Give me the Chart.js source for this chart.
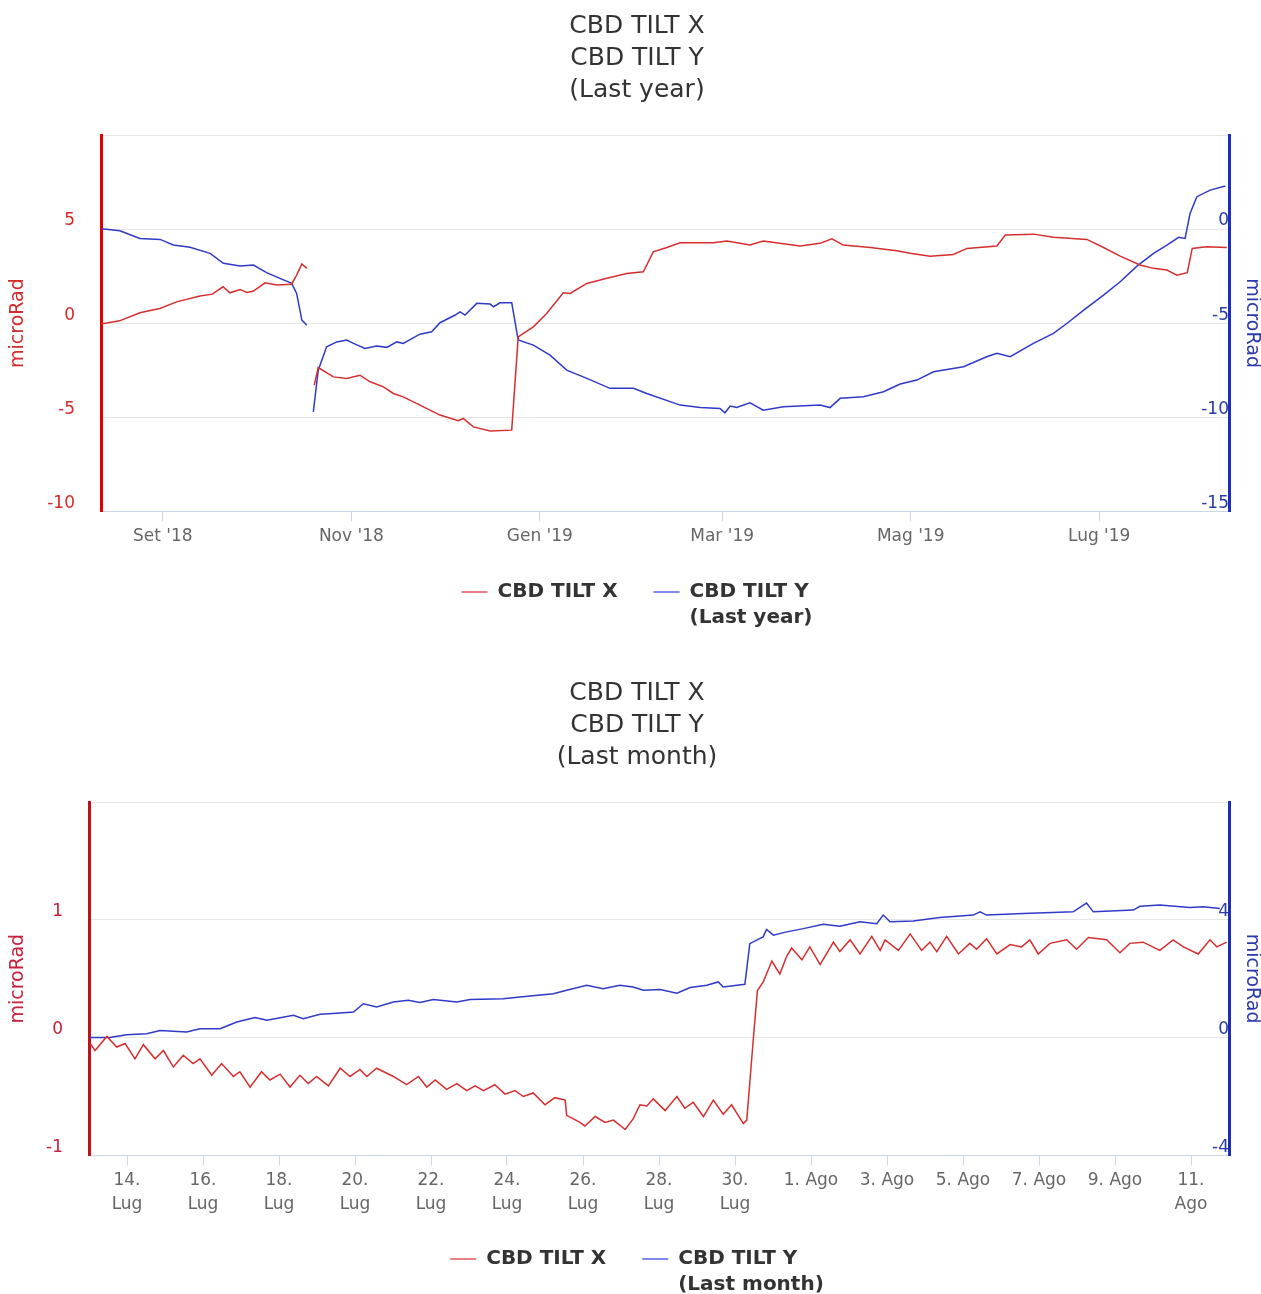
<!DOCTYPE html>
<html>
<head>
<meta charset="utf-8">
<script src="https://cdn.jsdelivr.net/npm/chart.js"></script>
<style>
html,body{margin:0;padding:0;background:#fff;overflow:hidden;}
canvas{display:block;}
</style>
</head>
<body>
<canvas id="c1" width="1274" height="667"></canvas>
<canvas id="c2" width="1274" height="667"></canvas>
<script>
// ---------- Chart 1: last year (x = days since 12 Aug 2018) ----------
const yearTitle = ['CBD TILT X', 'CBD TILT Y', '(Last year)'];
const yearTickDays = [20, 81, 142, 201, 262, 323];
const yearTickLabels = ["Set '18", "Nov '18", "Gen '19", "Mar '19", "Mag '19", "Lug '19"];
const yearLegend = [['CBD TILT X'], ['CBD TILT Y', '(Last year)']];

const yearTiltXDays = [0, 6, 12.6, 19, 24.5, 32, 36, 39.5, 41.7, 45, 47.2, 49.2, 53.1, 56.9, 61.7, 63.3, 65, 66.6,
  67.8,
  69, 70.3, 75.2, 79.5, 83.8, 87.1, 91.4, 94.6, 97.8, 103.2, 109.7, 115.6, 117.2, 120.5, 125.9, 132.9,
  135, 139.9, 144.2, 149.6, 151.8, 157.2, 163.7, 170.1, 175.5, 178.7, 183.1, 187.4, 198.2, 202.5, 210,
  214.3, 226.2, 232.7, 236.5, 240.2, 248.9, 257.5, 261.8, 268.3, 275.8, 280.2, 289.9, 292.6, 301.7,
  308.2, 319, 324.4, 329.8, 336.2, 340.6, 344.9, 348.1, 351.5, 353.1, 357.8, 364.3];
const yearTiltXVals = [-0.05, 0.12, 0.55, 0.78, 1.13, 1.44, 1.54, 1.93, 1.61, 1.79, 1.63, 1.69, 2.14, 2.02, 2.07, 2.55, 3.14, 2.91,
  null,
  -3.30, -2.36, -2.86, -2.94, -2.77, -3.12, -3.39, -3.74, -3.92, -4.36, -4.89, -5.19, -5.07, -5.52, -5.73, -5.69,
  -0.73, -0.20, 0.51, 1.61, 1.58, 2.11, 2.38, 2.64, 2.73, 3.79, 4.02, 4.27, 4.27, 4.36, 4.15,
  4.36, 4.10, 4.24, 4.48, 4.15, 4.02, 3.85, 3.71, 3.56, 3.65, 3.97, 4.10, 4.68, 4.73,
  4.56, 4.45, 4.02, 3.56, 3.09, 2.91, 2.82, 2.55, 2.68, 3.97, 4.06, 4.02];

const yearTiltYDays = [0.2, 6.1, 12.6, 19.1, 23.4, 28.8, 35.3, 39.6, 45, 49.3, 53.6, 57.9, 61.7, 63.3, 65, 66.6,
  67.6,
  68.7, 70.3, 73, 76.3, 79.5, 81.7, 85.4, 89.2, 92.5, 95.7, 97.8, 103.2, 107, 109.7, 114.6, 116.2, 117.8,
  121.6, 125.9, 127, 129.1, 132.9, 135, 139.9, 145.3, 150.7, 157.2, 164.7, 172.3, 176.6, 187.4, 193.9,
  200.3, 201.9, 203.6, 205.7, 210, 214.3, 220.8, 232.7, 235.9, 239.2, 246.7, 253.2, 258.6, 264, 269.4,
  279.1, 286.6, 289.9, 294.2, 301.7, 308.2, 312.5, 318, 324.4, 329.8, 335.2, 340.6, 344.9, 348.7, 350.8,
  352.4, 354.6, 358.9, 363.8];
const yearTiltYVals = [0.02, -0.09, -0.50, -0.55, -0.85, -0.97, -1.29, -1.82, -1.97, -1.91, -2.32, -2.62, -2.89, -3.42, -4.84, -5.11,
  null,
  -9.72, -7.5, -6.26, -6.0, -5.9, -6.08, -6.35, -6.22, -6.29, -6.0, -6.08, -5.59, -5.46, -4.98, -4.57, -4.40, -4.57,
  -3.95, -3.99, -4.13, -3.92, -3.92, -5.90, -6.17, -6.70, -7.50, -7.94, -8.47, -8.47, -8.74, -9.36, -9.49,
  -9.54, -9.77, -9.41, -9.49, -9.24, -9.63, -9.45, -9.36, -9.49, -9.0, -8.92, -8.65, -8.24, -8.03, -7.59,
  -7.32, -6.79, -6.61, -6.79, -6.08, -5.55, -5.02, -4.31, -3.51, -2.80, -1.97, -1.29, -0.85, -0.44, -0.50,
  0.83, 1.72, 2.07, 2.29];

// ---------- Chart 2: last month (x = days since 13 Jul 2019) ----------
const monthTitle = ['CBD TILT X', 'CBD TILT Y', '(Last month)'];
const monthTickDays = [1, 3, 5, 7, 9, 11, 13, 15, 17, 19, 21, 23, 25, 27, 29];
const monthTickLabels = [['14.', 'Lug'], ['16.', 'Lug'], ['18.', 'Lug'], ['20.', 'Lug'], ['22.', 'Lug'], ['24.', 'Lug'],
  ['26.', 'Lug'], ['28.', 'Lug'], ['30.', 'Lug'], '1. Ago', '3. Ago', '5. Ago', '7. Ago', '9. Ago', ['11.', 'Ago']];
const monthLegend = [['CBD TILT X'], ['CBD TILT Y', '(Last month)']];

const monthTiltXDays = [0.03, 0.16, 0.47, 0.73, 0.95, 1.21, 1.43, 1.74, 1.96, 2.22, 2.48, 2.74, 2.92, 3.23, 3.49, 3.80,
  3.97, 4.24, 4.54, 4.76, 5.03, 5.29, 5.55, 5.77, 5.99, 6.30, 6.61, 6.87, 7.13, 7.31, 7.57, 8.01, 8.36, 8.67,
  8.89, 9.11, 9.41, 9.68, 9.94, 10.16, 10.38, 10.68, 10.95, 11.21, 11.43, 11.69, 12.0, 12.26, 12.53, 12.57,
  12.92, 13.05, 13.32, 13.58, 13.80, 14.11, 14.32, 14.50, 14.68, 14.85, 15.16, 15.47, 15.68, 15.90, 16.17,
  16.43, 16.69, 16.91, 17.22, 17.31, 17.48, 17.59, 17.74, 17.97, 18.18, 18.36, 18.49, 18.76, 18.97, 19.24,
  19.59, 19.76, 20.03, 20.29, 20.60, 20.82, 20.95, 21.30, 21.61, 21.91, 22.13, 22.31, 22.57, 22.88, 23.18,
  23.36, 23.62, 23.89, 24.24, 24.54, 24.76, 24.98, 25.29, 25.73, 25.99, 26.30, 26.78, 27.13, 27.39, 27.74,
  28.18, 28.53, 28.80, 29.19, 29.50, 29.68, 29.94];
const monthTiltXVals = [-0.05, -0.11, 0.01, -0.08, -0.05, -0.18, -0.06, -0.18, -0.11, -0.25, -0.15, -0.22, -0.18, -0.32, -0.22, -0.33,
  -0.29, -0.42, -0.29, -0.36, -0.31, -0.42, -0.32, -0.39, -0.33, -0.41, -0.26, -0.33, -0.27, -0.33, -0.26, -0.33, -0.40, -0.33,
  -0.42, -0.36, -0.44, -0.39, -0.45, -0.41, -0.45, -0.40, -0.48, -0.45, -0.50, -0.47, -0.57, -0.51, -0.53, -0.66,
  -0.72, -0.75, -0.67, -0.72, -0.70, -0.78, -0.69, -0.57, -0.58, -0.52, -0.62, -0.50, -0.60, -0.55, -0.67,
  -0.53, -0.65, -0.57, -0.73, -0.70, -0.02, 0.40, 0.47, 0.65, 0.54, 0.69, 0.76, 0.66, 0.77, 0.62,
  0.81, 0.73, 0.83, 0.71, 0.86, 0.74, 0.83, 0.74, 0.88, 0.74, 0.81, 0.73, 0.86, 0.71, 0.80,
  0.75, 0.84, 0.71, 0.79, 0.77, 0.83, 0.71, 0.80, 0.83, 0.75, 0.85, 0.83, 0.72, 0.80, 0.81,
  0.74, 0.83, 0.77, 0.71, 0.83, 0.77, 0.81];

const monthTiltYDays = [0.03, 0.55, 0.99, 1.52, 1.87, 2.57, 2.92, 3.45, 3.89, 4.37, 4.68, 5.38, 5.64, 6.08, 6.52, 6.96,
  7.22, 7.57, 8.01, 8.40, 8.71, 9.06, 9.68, 10.03, 10.90, 11.34, 12.22, 12.57, 13.10, 13.53, 13.97, 14.32,
  14.59, 15.03, 15.47, 15.82, 16.26, 16.56, 16.69, 17.26, 17.39, 17.57, 17.74, 17.83, 18.01, 18.36, 18.80,
  19.32, 19.76, 20.29, 20.73, 20.90, 21.08, 21.69, 22.39, 23.27, 23.45, 23.62, 24.59, 25.90, 26.25, 26.43,
  27.48, 27.66, 28.18, 28.97, 29.32, 29.76];
const monthTiltYVals = [0.0, 0.0, 0.10, 0.13, 0.24, 0.19, 0.30, 0.30, 0.53, 0.68, 0.59, 0.76, 0.64, 0.79, 0.83, 0.87,
  1.15, 1.04, 1.21, 1.27, 1.19, 1.29, 1.21, 1.29, 1.32, 1.38, 1.49, 1.61, 1.78, 1.66, 1.78, 1.72,
  1.61, 1.63, 1.51, 1.70, 1.78, 1.89, 1.72, 1.81, 3.19, 3.31, 3.42, 3.67, 3.48, 3.59, 3.70,
  3.85, 3.78, 3.93, 3.87, 4.16, 3.93, 3.96, 4.08, 4.16, 4.27, 4.16, 4.21, 4.27, 4.57, 4.27,
  4.33, 4.46, 4.50, 4.42, 4.44, 4.38];

// ---------- rendering ----------
const FONT = "'DejaVu Sans', Verdana, sans-serif";
Chart.defaults.font.family = FONT;

const RED_LINE = 'rgb(214, 46, 46)';
const BLUE_LINE = 'rgb(48, 58, 200)';
const LEGEND_COLORS = ['#ec7f7f', '#7f88ee'];

function toPoints(days, vals) {
  return days.map((d, i) => ({x: d, y: vals[i]}));
}
function fixedTicks(values) {
  return (scale) => { scale.ticks = values.map(v => ({value: v})); };
}

// Legend drawn below the x axis (multi-line labels, centred like the original)
const tiltLegend = {
  id: 'tiltLegend',
  afterDraw(chart, args, opts) {
    const ctx = chart.ctx;
    ctx.save();
    ctx.font = 'bold 20px ' + FONT;
    ctx.textBaseline = 'middle';
    ctx.textAlign = 'left';
    const symW = 26, symGap = 10, itemGap = 36, lineH = 26;
    const widths = opts.items.map(lines => symW + symGap + Math.max(...lines.map(l => ctx.measureText(l).width)));
    const total = widths.reduce((a, b) => a + b, 0) + itemGap * (widths.length - 1);
    let x = (chart.width - total) / 2;
    opts.items.forEach((lines, i) => {
      ctx.fillStyle = LEGEND_COLORS[i];
      ctx.fillRect(x, opts.y - 1, symW, 2);
      ctx.fillStyle = '#333333';
      lines.forEach((l, j) => ctx.fillText(l, x + symW + symGap, opts.y + j * lineH));
      x += widths[i] + itemGap;
    });
    ctx.restore();
  }
};

function makeChart(id, p) {
  return new Chart(document.getElementById(id), {
    type: 'line',
    data: {
      datasets: [
        {label: 'CBD TILT X', data: toPoints(p.xDays, p.xVals), yAxisID: 'yL',
         borderColor: RED_LINE, backgroundColor: RED_LINE, borderWidth: 1.5,
         pointRadius: 0, tension: 0, spanGaps: false},
        {label: 'CBD TILT Y', data: toPoints(p.yDays, p.yVals), yAxisID: 'yR',
         borderColor: BLUE_LINE, backgroundColor: BLUE_LINE, borderWidth: 1.5,
         pointRadius: 0, tension: 0, spanGaps: false}
      ]
    },
    plugins: [tiltLegend],
    options: {
      responsive: false,
      animation: false,
      devicePixelRatio: 1,
      events: [],
      layout: {padding: {left: 0, right: 0, top: 0, bottom: p.padBottom}},
      plugins: {
        tooltip: {enabled: false},
        legend: {display: false},
        tiltLegend: {items: p.legend, y: 592},
        title: {
          display: true, text: p.title, color: '#333333',
          font: {size: 25, weight: 'normal', lineHeight: 32 / 25},
          padding: {top: 10, bottom: 29}
        }
      },
      scales: {
        x: {
          type: 'linear', min: p.xMin, max: p.xMax,
          afterBuildTicks: fixedTicks(p.tickDays),
          ticks: {
            autoSkip: false, maxRotation: 0, minRotation: 0, padding: 3, color: '#666666',
            font: {size: 17, lineHeight: 1.4},
            callback: (v, i) => p.tickLabels[i]
          },
          grid: {drawOnChartArea: false, drawTicks: true, tickLength: 10, color: '#ccd6eb'},
          border: {color: '#ccd6eb', width: 1}
        },
        yL: {
          position: 'left', min: p.lMin, max: p.lMax,
          afterBuildTicks: fixedTicks(p.lTicks),
          afterFit: (s) => { s.width = p.leftW; },
          ticks: {
            padding: 26, labelOffset: -8, color: p.lLabelColor, font: {size: 17},
            callback: (v) => (v === p.lMax ? '' : String(v))
          },
          grid: {color: '#e6e6e6', drawTicks: false, lineWidth: 1},
          border: {color: p.lAxisColor, width: 3},
          title: {display: true, text: 'microRad', color: p.lLabelColor, font: {size: 19}, padding: {top: 7, bottom: 0}}
        },
        yR: {
          position: 'right', min: p.rMin, max: p.rMax,
          afterBuildTicks: fixedTicks(p.rTicks),
          afterFit: (s) => { s.width = 45; },
          ticks: {
            mirror: true, padding: 0, labelOffset: -8, color: p.rLabelColor, font: {size: 17},
            callback: (v) => (v === p.rMax ? '' : String(v))
          },
          grid: {drawOnChartArea: false, drawTicks: false},
          border: {color: p.rAxisColor, width: 3},
          title: {display: true, text: 'microRad', color: p.rLabelColor, font: {size: 19}, padding: {top: 11, bottom: 0}}
        }
      }
    }
  });
}

makeChart('c1', {
  title: yearTitle, legend: yearLegend,
  xDays: yearTiltXDays, xVals: yearTiltXVals, yDays: yearTiltYDays, yVals: yearTiltYVals,
  xMin: 0, xMax: 365, tickDays: yearTickDays, tickLabels: yearTickLabels,
  lMin: -10, lMax: 10, lTicks: [-10, -5, 0, 5, 10],
  rMin: -15, rMax: 5, rTicks: [-15, -10, -5, 0, 5],
  leftW: 101, padBottom: 116,
  lAxisColor: '#e00000', lLabelColor: '#d42a2a',
  rAxisColor: '#1a2fc0', rLabelColor: '#2a3aaa'
});

makeChart('c2', {
  title: monthTitle, legend: monthLegend,
  xDays: monthTiltXDays, xVals: monthTiltXVals, yDays: monthTiltYDays, yVals: monthTiltYVals,
  xMin: 0, xMax: 30, tickDays: monthTickDays, tickLabels: monthTickLabels,
  lMin: -1, lMax: 2, lTicks: [-1, 0, 1, 2],
  rMin: -4, rMax: 8, rTicks: [-4, 0, 4, 8],
  leftW: 89, padBottom: 115,
  lAxisColor: '#c0101c', lLabelColor: '#c8203c',
  rAxisColor: '#1a2fb4', rLabelColor: '#2a3aaa'
});
</script>
</body>
</html>
